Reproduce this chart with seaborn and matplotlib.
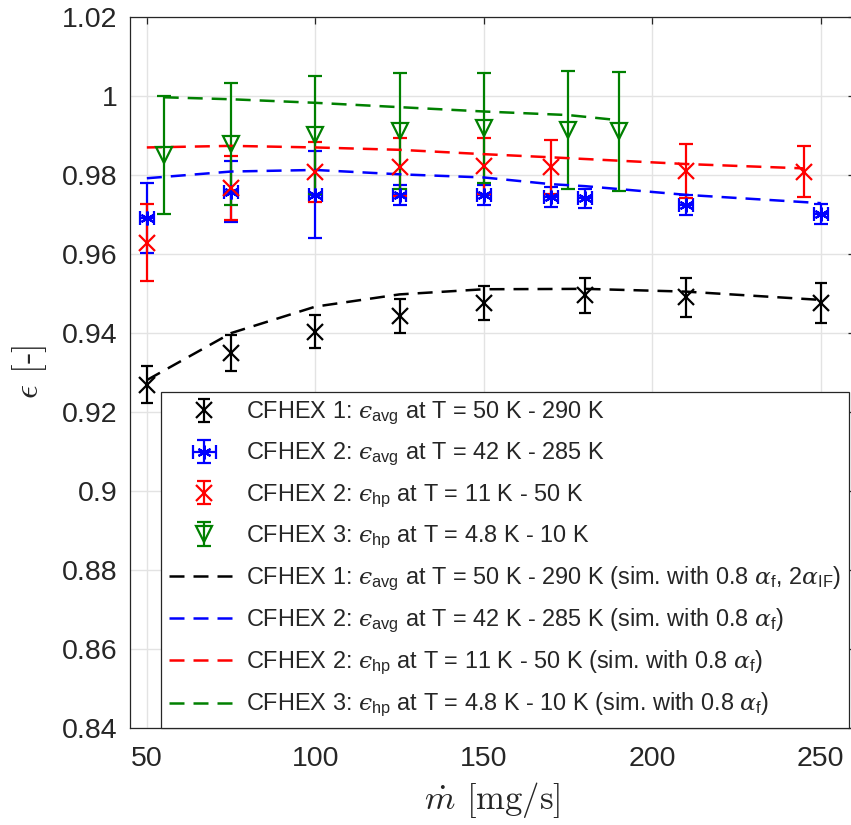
import matplotlib.pyplot as plt
import numpy as np
import pandas as pd
import seaborn as sns
from matplotlib.ticker import FuncFormatter

# CFHEX 1, eps_avg (measured)
cf1_mdot = [50, 75, 100, 125, 150, 180, 210, 250]
cf1_eps = [0.9268, 0.9348, 0.9403, 0.9442, 0.9474, 0.9495, 0.9490, 0.9476]
cf1_err = [0.0047, 0.0046, 0.0043, 0.0043, 0.0043, 0.0044, 0.0049, 0.0051]

# CFHEX 2, eps_avg (measured)
cf2a_mdot = [50, 75, 100, 125, 150, 170, 180, 210, 250]
cf2a_eps = [0.9690, 0.9757, 0.9749, 0.9749, 0.9749, 0.9744, 0.9740, 0.9723, 0.9700]
cf2a_err = [0.0088, 0.0077, 0.0110, 0.0025, 0.0025, 0.0025, 0.0025, 0.0025, 0.0025]
cf2a_xerr = [2, 2, 2, 2, 2, 2, 2, 2, 2]

# CFHEX 2, eps_hp (measured)
cf2h_mdot = [50, 75, 100, 125, 150, 170, 210, 245]
cf2h_eps = [0.9628, 0.9766, 0.9808, 0.9820, 0.9822, 0.9820, 0.9809, 0.9808]
cf2h_err = [0.0097, 0.0081, 0.0076, 0.0073, 0.0070, 0.0068, 0.0068, 0.0065]

# CFHEX 3, eps_hp (measured)
cf3_mdot = [55, 75, 100, 125, 150, 175, 190]
cf3_eps = [0.9850, 0.9878, 0.9900, 0.9911, 0.9918, 0.9913, 0.9910]
cf3_err = [0.0150, 0.0155, 0.0150, 0.0147, 0.0140, 0.0150, 0.0150]

# simulations
sim1_eps = [0.9280, 0.9399, 0.9466, 0.9497, 0.9510, 0.9511, 0.9504, 0.9483]
sim2a_eps = [0.9791, 0.9808, 0.9812, 0.9801, 0.9793, 0.9776, 0.9771, 0.9749, 0.9728]
sim2h_eps = [0.9869, 0.9873, 0.9869, 0.9863, 0.9852, 0.9844, 0.9827, 0.9816]
sim3_eps = [0.9996, 0.9991, 0.9982, 0.9971, 0.9960, 0.9951, 0.9938]

labels = [
    r'CFHEX 1: $ϵ_{\mathrm{avg}}$ at T = 50 K - 290 K',
    r'CFHEX 2: $ϵ_{\mathrm{avg}}$ at T = 42 K - 285 K',
    r'CFHEX 2: $ϵ_{\mathrm{hp}}$ at T = 11 K - 50 K',
    r'CFHEX 3: $ϵ_{\mathrm{hp}}$ at T = 4.8 K - 10 K',
    r'CFHEX 1: $ϵ_{\mathrm{avg}}$ at T = 50 K - 290 K (sim. with 0.8 $\alpha_{\mathrm{f}}$, 2$\alpha_{\mathrm{IF}}$)',
    r'CFHEX 2: $ϵ_{\mathrm{avg}}$ at T = 42 K - 285 K (sim. with 0.8 $\alpha_{\mathrm{f}}$)',
    r'CFHEX 2: $ϵ_{\mathrm{hp}}$ at T = 11 K - 50 K (sim. with 0.8 $\alpha_{\mathrm{f}}$)',
    r'CFHEX 3: $ϵ_{\mathrm{hp}}$ at T = 4.8 K - 10 K (sim. with 0.8 $\alpha_{\mathrm{f}}$)',
]

BLACK, BLUE, RED, GREEN = 'k', (0, 0, 1), (1, 0, 0), (0, 0.5, 0)


def main():
    sns.set_style('white')
    plt.rcParams['font.family'] = ['Liberation Sans', 'DejaVu Sans']
    plt.rcParams['mathtext.fontset'] = 'custom'
    plt.rcParams['mathtext.rm'] = 'Liberation Sans'
    plt.rcParams['mathtext.it'] = 'DejaVu Serif:italic'
    plt.rcParams['mathtext.bf'] = 'Liberation Sans:bold'

    fig = plt.figure(figsize=(8.51, 8.25), dpi=100)
    ax = fig.add_axes([130 / 851, 1 - 727.7 / 825, 724.5 / 851, 711 / 825])

    eb_kw = dict(linestyle='none', elinewidth=1.6, capthick=1.6, mew=1.6)
    h1 = ax.errorbar(cf1_mdot, cf1_eps, yerr=cf1_err, color=BLACK, marker='x',
                     ms=12, capsize=4.5, **eb_kw)
    h2 = ax.errorbar(cf2a_mdot, cf2a_eps, yerr=cf2a_err, xerr=cf2a_xerr, color=BLUE,
                     marker=(6, 2, 0), ms=10, capsize=5, **eb_kw)
    h3 = ax.errorbar(cf2h_mdot, cf2h_eps, yerr=cf2h_err, color=RED, marker='x',
                     ms=12, capsize=5, **eb_kw)
    h4 = ax.errorbar(cf3_mdot, cf3_eps, yerr=cf3_err, color=GREEN, marker='v',
                     ms=12, mfc='none', capsize=5, **eb_kw)

    dash = (0, (6, 3.6))
    sims = [(cf1_mdot, sim1_eps, BLACK), (cf2a_mdot, sim2a_eps, BLUE),
            (cf2h_mdot, sim2h_eps, RED), (cf3_mdot, sim3_eps, GREEN)]
    line_handles = []
    for x, y, c in sims:
        df = pd.DataFrame({'mdot': x, 'eps': y})
        sns.lineplot(data=df, x='mdot', y='eps', color=c, lw=1.8, linestyle=dash, ax=ax)
        line_handles.append(ax.lines[-1])

    ax.set_xlim(45, 260)
    ax.set_ylim(0.84, 1.02)
    ax.set_xticks([50, 100, 150, 200, 250])
    ax.set_yticks(np.arange(0.84, 1.021, 0.02))
    ax.yaxis.set_major_formatter(FuncFormatter(lambda v, p: f'{v:g}'))
    ax.grid(True, color='#e3e3e3', lw=1)
    ax.set_axisbelow(True)
    for s in ax.spines.values():
        s.set_color('#262626')
        s.set_linewidth(0.9)
    ax.tick_params(direction='in', length=5, width=0.9, color='#262626',
                   labelsize=20.5, labelcolor='#262626', top=True, right=True, pad=9)
    ax.tick_params(axis='x', pad=13)

    ax.set_xlabel(r'$\dot{m}$ [mg/s]', fontsize=25, family='cmr10',
                  math_fontfamily='cm', labelpad=6)
    ax.set_ylabel(r'$\epsilon$ [-]', fontsize=25, family='cmr10',
                  math_fontfamily='cm', labelpad=9)

    leg = ax.legend([h1, h2, h3, h4] + line_handles, labels, loc='lower left',
                    bbox_to_anchor=(31 / 724.5, 0), borderaxespad=0, fontsize=16.9,
                    handlelength=3.0, handletextpad=0.25, labelspacing=0.6,
                    borderpad=0.35, fancybox=False, framealpha=1, numpoints=1)
    leg.get_frame().set_edgecolor('#262626')
    leg.get_frame().set_linewidth(0.9)

    fig.savefig('out.png', dpi=100)


if __name__ == '__main__':
    main()
